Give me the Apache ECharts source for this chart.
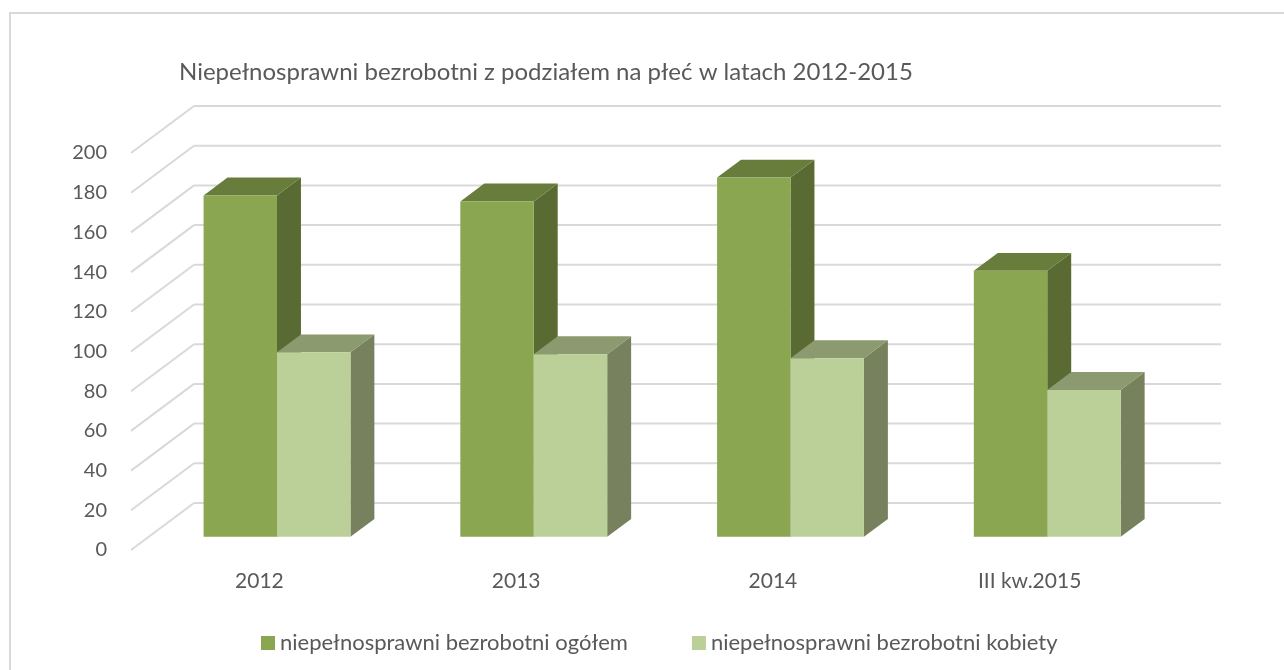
<!DOCTYPE html>
<html>
<head>
    <meta http-equiv="Content-Type" content="text/html; charset=utf-8" />
    <title></title>
    <script type="text/javascript" src="https://cdn.jsdelivr.net/npm/echarts@6/dist/echarts.min.js"></script>
    <style>
        html, body {
            margin: 0;
            padding: 0;
            background: #fff;
        }

        #chartView {
            width: 1284px;
            height: 670px;
        }
    </style>
</head>
<body>
    <div id="chartView"></div>

    <script>
        var categories = ["2012", "2013", "2014", "III kw.2015"];
        var seriesNames = ["niepełnosprawni bezrobotni ogółem", "niepełnosprawni bezrobotni kobiety"];
        var ogolem = [172, 169, 181, 134];
        var kobiety = [93, 92, 90, 74];
        var yTicks = [0, 20, 40, 60, 80, 100, 120, 140, 160, 180, 200];

        //kolory: przod, gora, bok
        var faceColors = [
            { front: "#8aa650", top: "#687d3b", side: "#596b33" },
            { front: "#bbcf99", top: "#8c9a6f", side: "#77815d" }
        ];

        var textColor = "#595959";
        var fontName = "Lato";
        // przesuniecie glebi (caly wymiar) w pikselach
        var depthX = 63, depthY = -47;
        var barFront = 0.28, barBack = 0.66;
        var barRatio = 0.286;

        function renderWall(params, api) {
            var cs = params.coordSys;
            var y = api.coord([0, api.value(1)])[1];
            var x0 = cs.x;
            var x1 = cs.x + cs.width;
            var style = { stroke: "#d9d9d9", lineWidth: 2 };
            return {
                type: "group",
                children: [
                    { type: "line", shape: { x1: x0, y1: y, x2: x0 + depthX, y2: y + depthY }, style: style },
                    { type: "line", shape: { x1: x0 + depthX, y1: y + depthY, x2: x1 + depthX, y2: y + depthY }, style: style }
                ]
            };
        }

        function makeBarRender(s) {
            return function (params, api) {
                var idx = api.value(0);
                var base = api.coord([idx, 0]);
                var top = api.coord([idx, api.value(1)]);
                var band = api.size([1, 0])[0];
                var w = band * barRatio;
                var fx = depthX * barFront, fy = depthY * barFront;
                var bx = depthX * (barBack - barFront), by = depthY * (barBack - barFront);
                var left = base[0] + fx + (s - 1) * w;
                var right = left + w;
                var yb = base[1] + fy;
                var yt = top[1] + fy;
                var c = faceColors[s];
                return {
                    type: "group",
                    children: [
                        {
                            type: "polygon",
                            shape: { points: [[right, yb], [right + bx, yb + by], [right + bx, yt + by], [right, yt]] },
                            style: { fill: c.side }
                        },
                        {
                            type: "polygon",
                            shape: { points: [[left, yt], [right, yt], [right + bx, yt + by], [left + bx, yt + by]] },
                            style: { fill: c.top }
                        },
                        {
                            type: "rect",
                            shape: { x: left, y: yt, width: w, height: yb - yt },
                            style: { fill: c.front }
                        }
                    ]
                };
            };
        }

        var myChart = echarts.init(document.getElementById("chartView"));

        var option = {
            backgroundColor: "#ffffff",
            animation: false,
            title: {
                text: "Niepełnosprawni bezrobotni z podziałem na płeć w latach 2012-2015",
                left: 174,
                top: 55,
                textStyle: {
                    color: textColor,
                    fontFamily: fontName,
                    fontWeight: "normal",
                    fontSize: 24
                }
            },
            legend: {
                data: seriesNames,
                left: 256,
                top: 627,
                icon: "rect",
                itemWidth: 14,
                itemHeight: 14,
                itemGap: 64,
                textStyle: { color: textColor, fontFamily: fontName, fontSize: 22 }
            },
            graphic: [
                {
                    type: "rect",
                    shape: { x: 10, y: 13, width: 1400, height: 800 },
                    style: { fill: null, stroke: "#d9d9d9", lineWidth: 2 },
                    silent: true
                }
            ],
            grid: {
                left: 131,
                right: 126,
                top: 153,
                bottom: 120
            },
            xAxis: {
                type: "category",
                data: categories,
                axisLine: { show: false },
                axisTick: { show: false },
                axisLabel: { color: textColor, fontFamily: fontName, fontSize: 21, margin: 21 }
            },
            yAxis: {
                type: "value",
                min: 0,
                max: 200,
                interval: 20,
                splitLine: { show: false },
                axisLine: { show: false },
                axisTick: { show: false },
                axisLabel: { color: textColor, fontFamily: fontName, fontSize: 20, margin: 24 }
            },
            series: [
                {
                    name: "wall",
                    type: "custom",
                    renderItem: renderWall,
                    data: yTicks.map(function (v) { return [0, v]; }),
                    silent: true,
                    z: 1
                },
                {
                    name: seriesNames[0],
                    type: "custom",
                    renderItem: makeBarRender(0),
                    itemStyle: { color: faceColors[0].front },
                    data: ogolem.map(function (v, i) { return [i, v]; }),
                    z: 2
                },
                {
                    name: seriesNames[1],
                    type: "custom",
                    renderItem: makeBarRender(1),
                    itemStyle: { color: faceColors[1].front },
                    data: kobiety.map(function (v, i) { return [i, v]; }),
                    z: 3
                }
            ]
        };
        myChart.setOption(option);
    </script>
</body>
</html>
